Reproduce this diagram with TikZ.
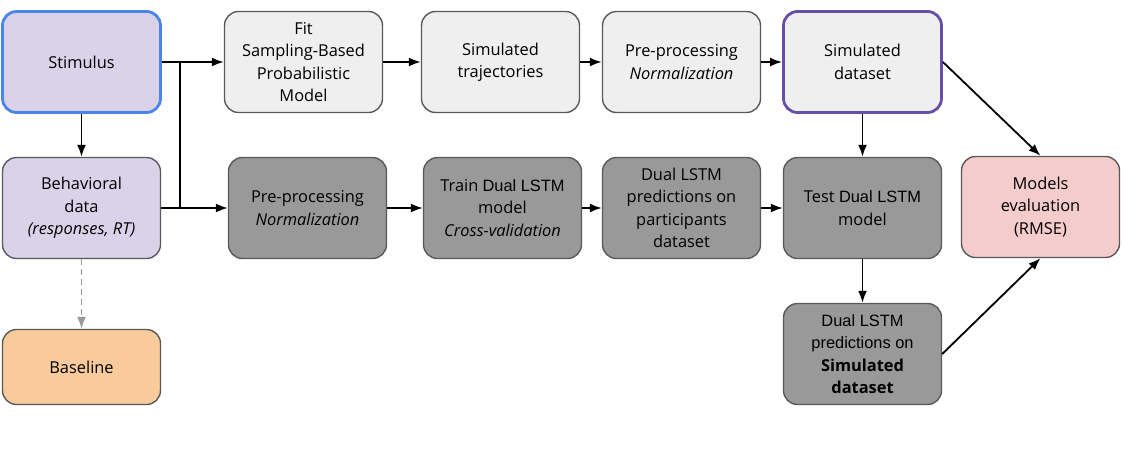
\documentclass[tikz,border=0pt]{standalone}
\usepackage{fontspec}
\setmainfont{Open Sans}
\newfontfamily\arialf{Liberation Sans}
\usetikzlibrary{arrows.meta}
\definecolor{lav}{HTML}{D9D2E9}
\definecolor{lgray}{HTML}{EFEFEF}
\definecolor{dgray}{HTML}{999999}
\definecolor{peach}{HTML}{F9CB9C}
\definecolor{pinkc}{HTML}{F4CCCC}
\definecolor{bord}{HTML}{595959}
\definecolor{blueb}{HTML}{4A86E8}
\definecolor{purpb}{HTML}{674EA7}
\tikzset{
  box/.style={rounded corners=14pt, draw=bord, line width=1.4pt, minimum width=158pt,
    minimum height=101pt, align=center, inner sep=0pt, font=\fontsize{16.4}{22.5}\selectfont},
  conn/.style={line width=1.8pt, -{Latex[length=12pt,width=9pt]}},
  plainline/.style={line width=1.8pt},
}
\begin{document}
\begin{tikzpicture}[x=1pt,y=-1pt]
\useasboundingbox (0,0) rectangle (1124,464);
% left column
\node[box, fill=lav, draw=blueb, line width=2.8pt] (stim) at (81.5,62) {Stimulus};
\node[box, fill=lav] (beh) at (81.5,208) {Behavioral\\data\\\textit{(responses, RT)}};
\node[box, fill=peach, minimum height=75pt] (base) at (81.5,367) {Baseline};
% top row
\node[box, fill=lgray] (fit) at (303.5,62) {Fit\\Sampling-Based\\Probabilistic\\Model};
\node[box, fill=lgray] (traj) at (500.5,62) {Simulated\\trajectories};
\node[box, fill=lgray] (pp1) at (681.5,62) {Pre-processing\\\textit{Normalization}};
\node[box, fill=lgray, draw=purpb, line width=2.8pt] (simd) at (862.5,62) {Simulated\\dataset};
% bottom row
\node[box, fill=dgray] (pp2) at (307.5,208) {Pre-processing\\\textit{Normalization}};
\node[box, fill=dgray] (train) at (502.5,208) {Train {\arialf Dual LSTM}\\model\\\textit{Cross-validation}};
\node[box, fill=dgray] (predp) at (681.5,208) {Dual LSTM\\predictions on\\participants\\dataset};
\node[box, fill=dgray] (test) at (862.5,208) {Test {\arialf Dual LSTM}\\model};
\node[box, fill=dgray] (preds) at (862.5,354) {{\arialf Dual LSTM}\\{\arialf predictions on}\\\textbf{Simulated}\\\textbf{dataset}};
\node[box, fill=pinkc] (eval) at (1040.5,207) {Models\\evaluation\\(RMSE)};
% junction
\coordinate (j1) at (180,62);
\coordinate (j2) at (180,208);
% connectors
\draw[conn] (stim) -- (beh);
\draw[line width=1.8pt, dash pattern=on 6pt off 4pt, draw=dgray, -{Latex[length=12pt,width=9pt,fill=dgray]}] (beh) -- (base);
\draw[conn] (stim.east) -- (fit.west);
\draw[conn] (beh.east) -- (pp2.west);
\draw[plainline] (j1) -- (j2);
\draw[conn] (fit) -- (traj);
\draw[conn] (traj) -- (pp1);
\draw[conn] (pp1) -- (simd);
\draw[conn] (pp2) -- (train);
\draw[conn] (train) -- (predp);
\draw[conn] (predp) -- (test);
\draw[conn] (simd) -- (test);
\draw[conn] (test) -- (preds);
\draw[conn] (simd.east) -- (eval.north);
\draw[conn] (preds.east) -- (eval.south);
\end{tikzpicture}
\end{document}
